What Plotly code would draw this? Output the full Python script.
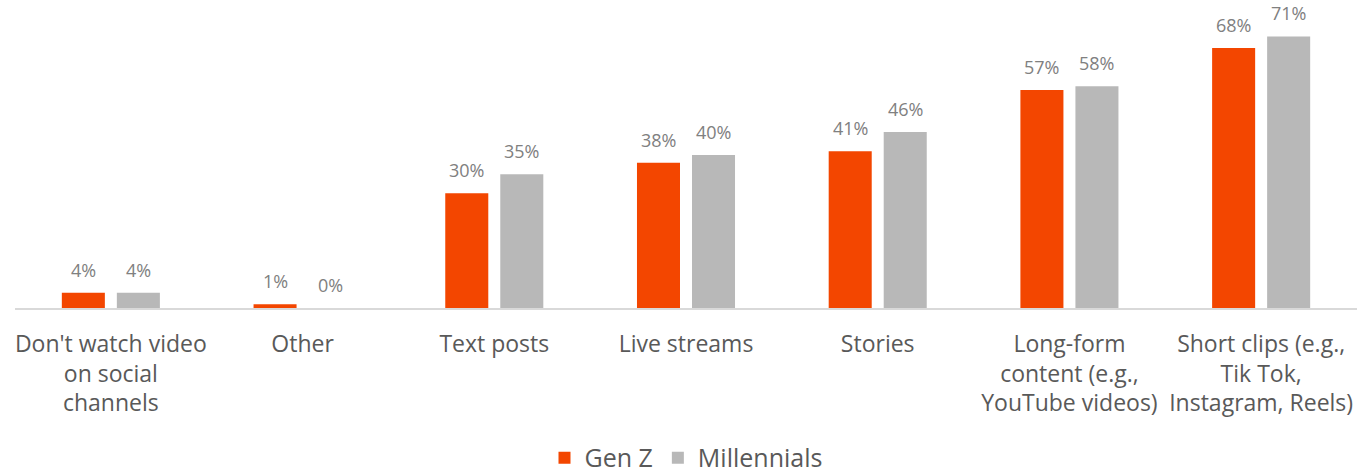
import plotly.graph_objects as go

categories = [
    "Don't watch video<br>on social<br>channels",
    "Other",
    "Text posts",
    "Live streams",
    "Stories",
    "Long-form<br>content (e.g.,<br>YouTube videos)",
    "Short clips (e.g.,<br>Tik Tok,<br>Instagram, Reels)",
]
gen_z = [4, 1, 30, 38, 41, 57, 68]
millennials = [4, 0, 35, 40, 46, 58, 71]

ORANGE = "#F34600"
GRAY = "#B8B8B8"
FONT = "Open Sans, Noto Sans, DejaVu Sans, sans-serif"

fig = go.Figure()
fig.add_trace(go.Bar(name="Gen Z", x=categories, y=gen_z, marker_color=ORANGE,
                     marker_line_width=0, hoverinfo="skip"))
fig.add_trace(go.Bar(name="Millennials", x=categories, y=millennials, marker_color=GRAY,
                     marker_line_width=0, hoverinfo="skip"))

annotations = []
for series, shift in ((gen_z, -27.5), (millennials, 27.5)):
    for c, v in zip(categories, series):
        annotations.append(dict(
            x=c, y=v, xref="x", yref="y", text=f"{v}%", showarrow=False,
            xshift=shift, yshift=23, yanchor="middle",
            font=dict(family=FONT, size=18, color="#808080"),
        ))

fig.update_layout(
    width=1362, height=475,
    margin=dict(l=15, r=5, t=2, b=167, autoexpand=False),
    paper_bgcolor="white", plot_bgcolor="white",
    barmode="group", bargap=0.426, bargroupgap=0.218,
    font=dict(family=FONT, size=21, color="#595959"),
    showlegend=True,
    legend=dict(orientation="h", x=0.5, xanchor="center", y=-0.49, yanchor="middle",
                font=dict(family=FONT, size=25, color="#595959"),
                itemwidth=30, traceorder="normal"),
    annotations=annotations,
    xaxis=dict(showline=True, linecolor="#D9D9D9", linewidth=2, ticks="",
               tickfont=dict(family=FONT, size=23, color="#595959"),
               ticklabelstandoff=14, automargin=False,
               showgrid=False, zeroline=False, fixedrange=True),
    yaxis=dict(range=[0, 80], visible=False, showgrid=False, zeroline=False, fixedrange=True),
)

fig.write_html("out.html")
